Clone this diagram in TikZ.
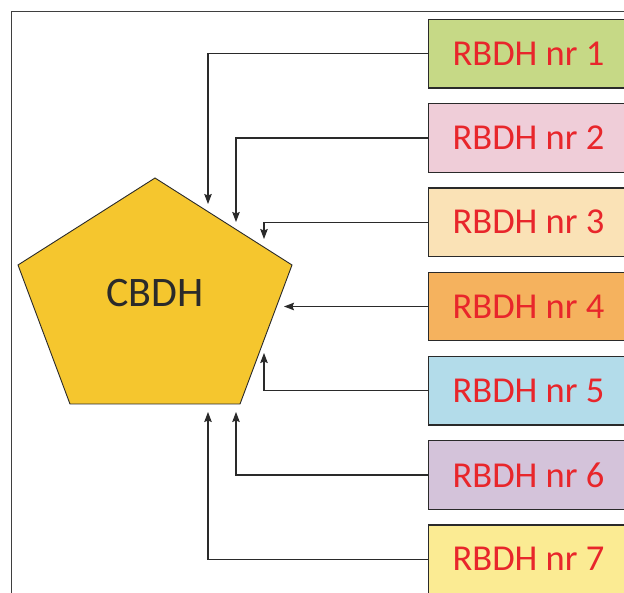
\documentclass[tikz,border=0pt]{standalone}
\usepackage{fontspec}
\setmainfont{Carlito}
\usetikzlibrary{arrows.meta}
\definecolor{c1}{HTML}{C6D986}
\definecolor{c2}{HTML}{EFCDD8}
\definecolor{c3}{HTML}{FAE2B6}
\definecolor{c4}{HTML}{F5B25E}
\definecolor{c5}{HTML}{B3DCEA}
\definecolor{c6}{HTML}{D4C3DA}
\definecolor{c7}{HTML}{FBEB93}
\definecolor{pent}{HTML}{F5C62E}
\definecolor{rtext}{HTML}{E8262B}
\definecolor{linec}{HTML}{2A2A2A}
\begin{document}
\begin{tikzpicture}[x=1pt,y=-1pt,
  rbox/.style={draw=linec, line width=1.2pt, minimum width=200pt, minimum height=68.5pt,
    inner sep=0pt, text=rtext, font=\fontsize{36.5}{40}\selectfont},
  arr/.style={draw=linec, line width=1.1pt, -{Stealth[length=10pt,width=7.5pt,inset=1.5pt]}},
  framel/.style={draw=linec!90, line width=1pt}]
\useasboundingbox (0,0) rectangle (624,593);
\clip (0,0) rectangle (624,593);
\fill[white] (0,0) rectangle (624,593);
% frame
\draw[framel] (11,600) -- (11,12) -- (630,12);
% pentagon
\coordinate (pT) at (155,178);
\coordinate (pR) at (292,265);
\coordinate (pBR) at (240,404);
\coordinate (pBL) at (70,404);
\coordinate (pL) at (18,265);
\draw[fill=pent, draw=linec, line width=0.9pt, line join=miter] (pT) -- (pR) -- (pBR) -- (pBL) -- (pL) -- cycle;
\node[font=\fontsize{42}{46}\selectfont, text=linec] (cbdh) at (155,293) {CBDH};
% boxes
\node[rbox, fill=c1] (r1) at (528.5,53.75) {RBDH nr 1};
\node[rbox, fill=c2] (r2) at (528.5,138) {RBDH nr 2};
\node[rbox, fill=c3] (r3) at (528.5,222.25) {RBDH nr 3};
\node[rbox, fill=c4] (r4) at (528.5,306.5) {RBDH nr 4};
\node[rbox, fill=c5] (r5) at (528.5,390.75) {RBDH nr 5};
\node[rbox, fill=c6] (r6) at (528.5,475) {RBDH nr 6};
\node[rbox, fill=c7] (r7) at (528.5,559.25) {RBDH nr 7};
% arrow targets
\coordinate (t1) at (208,204);
\coordinate (t2) at (236,222);
\coordinate (t3) at (264,239);
\coordinate (t4) at (284,306.5);
\coordinate (t5) at (264,353);
\coordinate (t6) at (236,412);
\coordinate (t7) at (208,412);
% connectors
\draw[arr] (r1.west) -| (t1);
\draw[arr] (r2.west) -| (t2);
\draw[arr] (r3.west) -| (t3);
\draw[arr] (r4.west) -- (t4);
\draw[arr] (r5.west) -| (t5);
\draw[arr] (r6.west) -| (t6);
\draw[arr] (r7.west) -| (t7);
\end{tikzpicture}
\end{document}
